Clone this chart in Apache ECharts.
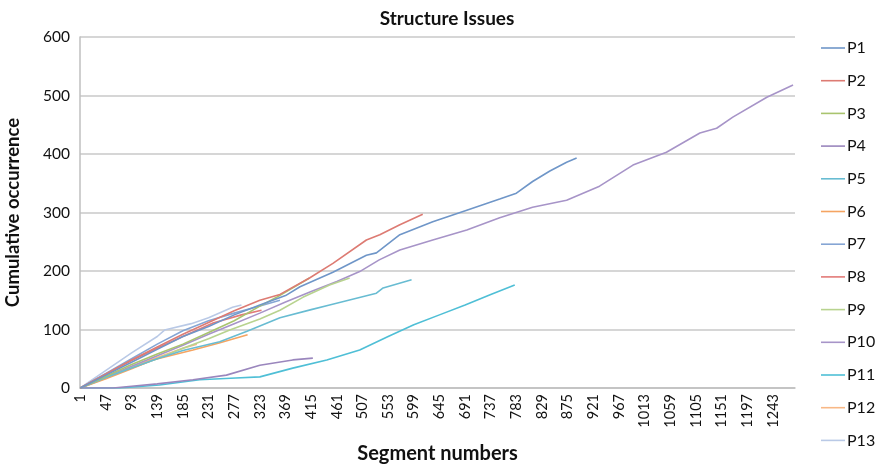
<!DOCTYPE html>
<html>
<head>
<meta charset="utf-8">
<script src="https://cdn.jsdelivr.net/npm/echarts@6/dist/echarts.min.js"></script>
<style>html,body{margin:0;padding:0;background:#fff;}#c{width:880px;height:468px;}</style>
</head>
<body>
<div id="c"></div>
<script>
// Number of segments on the x axis (categories 1..N)
const segCount = 1282;
const yTicks = [0, 100, 200, 300, 400, 500, 600];
const seriesNames = ['P1','P2','P3','P4','P5','P6','P7','P8','P9','P10','P11','P12','P13'];

const P1_seg = [1,47,93,139,185,231,277,323,369,395,454,514,532,574,633,694,753,783,812,843,873,891];
const P1_val = [0,22,44,66,88,105,125,142,158,173,198,227,231,262,284,304,323,333,353,371,386,393];
const P2_seg = [1,47,93,139,185,231,277,323,359,412,454,514,538,574,615];
const P2_val = [0,24,48,70,92,112,132,150,160,188,213,253,262,279,297];
const P3_seg = [1,47,93,139,185,231,277,323,353,412];
const P3_val = [0,20,40,58,75,95,115,140,155,188];
const P4_seg = [1,60,93,139,203,263,323,382,418];
const P4_val = [0,0,3,7,14,22,39,48,51];
const P5_seg = [1,47,93,139,185,251,300,359,415,448,532,544,595];
const P5_val = [0,18,34,50,64,79,97,120,134,142,162,171,185];
const P6_seg = [1,47,93,131,203,250,301];
const P6_val = [0,16,33,48,65,77,91];
const P7_seg = [1,47,93,139,185,231,277,323,359];
const P7_val = [0,25,50,75,98,115,128,140,150];
const P8_seg = [1,47,93,139,185,239,290,326];
const P8_val = [0,24,47,68,88,111,125,133];
const P9_seg = [1,47,93,139,185,231,269,323,359,400,448,484];
const P9_val = [0,17,34,50,68,84,99,118,133,155,176,188];
const P10_seg = [1,47,93,139,185,231,277,323,369,415,461,502,537,574,633,694,753,812,873,932,992,1052,1112,1142,1171,1232,1279];
const P10_val = [0,19,37,55,73,92,110,128,147,165,182,199,219,236,253,270,291,309,321,345,381,403,436,444,463,497,518];
const P11_seg = [1,72,143,215,280,323,382,443,502,553,599,645,691,737,780];
const P11_val = [0,0,5,14,17,19,34,48,65,88,108,125,142,160,176];
const P12_seg = [1,47,93,139,185,210];
const P12_val = [0,18,36,52,68,75];
const P13_seg = [1,47,93,139,152,200,231,274,290];
const P13_val = [0,30,60,88,99,110,120,138,142];

const colors = ['#6f96c8','#dd7b73','#a9c46e','#9a86bd','#68bcd2','#f5a462','#85a5d4','#e27a78','#b8d38f','#a794c8','#4fbfd6','#f8b886','#b9c9e6'];

const segs = [P1_seg,P2_seg,P3_seg,P4_seg,P5_seg,P6_seg,P7_seg,P8_seg,P9_seg,P10_seg,P11_seg,P12_seg,P13_seg];
const vals = [P1_val,P2_val,P3_val,P4_val,P5_val,P6_val,P7_val,P8_val,P9_val,P10_val,P11_val,P12_val,P13_val];

const categories = [];
for (let i = 1; i <= segCount; i++) categories.push(String(i));

const FONT = 'Lato, "Open Sans", sans-serif';

const series = seriesNames.map((name, k) => ({
  name: name,
  type: 'line',
  symbol: 'none',
  data: segs[k].map((s, j) => [s - 1, vals[k][j]]),
  lineStyle: { width: 1.6, color: colors[k] },
  itemStyle: { color: colors[k] },
  z: 13 - k
}));

const chart = echarts.init(document.getElementById('c'), null, { renderer: 'canvas' });
chart.setOption({
  animation: false,
  backgroundColor: '#ffffff',
  title: {
    text: 'Structure Issues',
    left: 442, top: 4, textAlign: 'center',
    textStyle: { fontFamily: FONT, fontSize: 19, fontWeight: 'bold', color: '#111' }
  },
  legend: {
    orient: 'vertical',
    left: 816, top: 35,
    itemWidth: 24, itemHeight: 16, itemGap: 16.7,
    icon: 'path://M0,0 L24,0 L24,1.6 L0,1.6 Z',
    textStyle: { fontFamily: FONT, fontSize: 16, color: '#111', padding: [0,0,0,-3] },
    data: seriesNames
  },
  grid: { left: 80, right: 85, top: 37, bottom: 80, containLabel: false, outerBoundsMode: 'none' },
  xAxis: {
    type: 'category',
    data: categories,
    boundaryGap: true,
    name: 'Segment numbers',
    nameLocation: 'middle',
    nameGap: 56,
    nameTextStyle: { fontFamily: FONT, fontSize: 20, fontWeight: 'bold', color: '#111' },
    axisLine: { lineStyle: { color: '#bfbfbf', width: 1.5 } },
    axisTick: { show: false },
    axisLabel: { interval: 45, rotate: 90, fontFamily: FONT, fontSize: 14.5, color: '#111', margin: 6 },
    splitLine: { show: false }
  },
  yAxis: {
    type: 'value',
    min: 0, max: 600, interval: 100,
    name: 'Cumulative occurrence',
    nameLocation: 'middle',
    nameGap: 57,
    nameTextStyle: { fontFamily: FONT, fontSize: 18.5, fontWeight: 'bold', color: '#111' },
    axisLine: { show: true, lineStyle: { color: '#bfbfbf', width: 1.5 } },
    axisTick: { show: false },
    axisLabel: { fontFamily: FONT, fontSize: 15.5, color: '#111', margin: 10,
      formatter: v => yTicks.indexOf(v) >= 0 ? String(v) : '' },
    splitLine: { lineStyle: { color: '#c8c8c8', width: 1.5 } }
  },
  series: series
});
</script>
</body>
</html>
